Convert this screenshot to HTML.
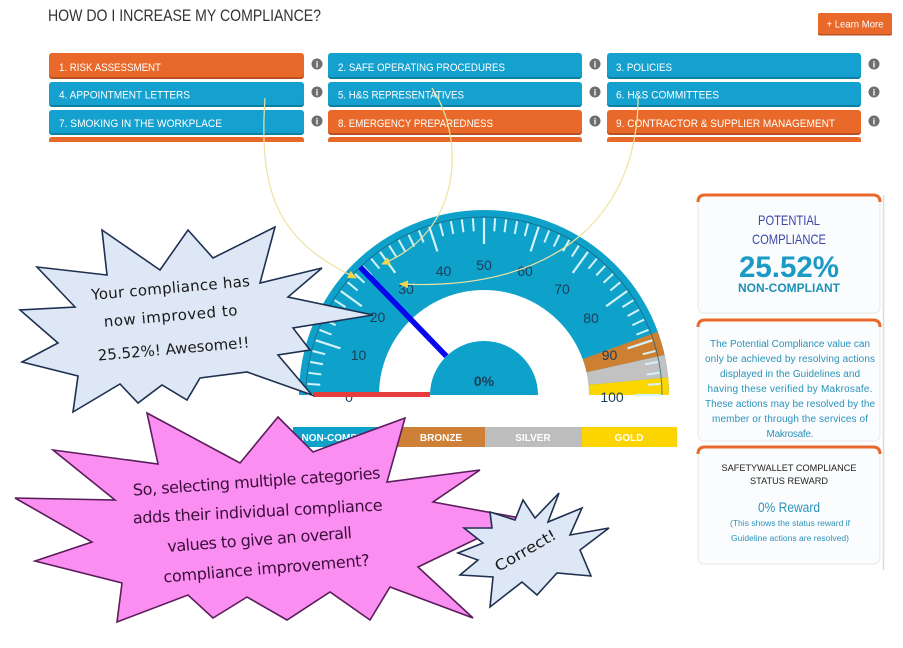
<!DOCTYPE html>
<html><head><meta charset="utf-8">
<style>
html,body{margin:0;padding:0;background:#fff;}
svg{display:block;font-family:"Liberation Sans",Arial,sans-serif;}
.bt{fill:#fff;font-size:11px;}
.hw{font-family:"Comic Sans MS","DejaVu Sans",sans-serif;}
</style></head>
<body>
<svg width="903" height="648" viewBox="0 0 903 648" xmlns="http://www.w3.org/2000/svg">
<defs>
<line id="tm" x1="307" y1="395" x2="320" y2="395" stroke="#d4f2fa" stroke-width="2"/>
<line id="tM" x1="307" y1="395" x2="333" y2="395" stroke="#d4f2fa" stroke-width="2.2"/>
<marker id="ah" markerWidth="12" markerHeight="12" refX="8" refY="4" orient="auto" markerUnits="userSpaceOnUse"><path d="M0,0 L9,4 L0,8 Z" fill="#f2d54a"/></marker>
</defs>

<!-- Title -->
<text x="48" y="21" font-size="17" fill="#333" textLength="273" lengthAdjust="spacingAndGlyphs">HOW DO I INCREASE MY COMPLIANCE?</text>

<!-- Learn more -->
<rect x="818" y="14.5" width="74" height="21" rx="2" fill="#b9501f"/>
<rect x="818" y="13" width="74" height="21" rx="2" fill="#e8692a"/>
<text x="855" y="27.5" font-size="10" fill="#fff" text-anchor="middle" textLength="57" lengthAdjust="spacingAndGlyphs">+ Learn More</text>

<!-- Buttons row 1 -->
<rect x="49" y="55" width="255" height="24" rx="3" fill="#b9501f"/>
<rect x="49" y="53" width="255" height="24" rx="3" fill="#e8692a"/>
<text class="bt" x="59" y="71" textLength="102" lengthAdjust="spacingAndGlyphs">1. RISK ASSESSMENT</text>
<rect x="328" y="55" width="254" height="24" rx="3" fill="#0c7fa5"/>
<rect x="328" y="53" width="254" height="24" rx="3" fill="#14a1cf"/>
<text class="bt" x="338" y="71" textLength="167" lengthAdjust="spacingAndGlyphs">2. SAFE OPERATING PROCEDURES</text>
<rect x="607" y="55" width="254" height="24" rx="3" fill="#0c7fa5"/>
<rect x="607" y="53" width="254" height="24" rx="3" fill="#14a1cf"/>
<text class="bt" x="616" y="71" textLength="56" lengthAdjust="spacingAndGlyphs">3. POLICIES</text>

<!-- row 2 -->
<rect x="49" y="84" width="255" height="23" rx="3" fill="#0c7fa5"/>
<rect x="49" y="82" width="255" height="23" rx="3" fill="#14a1cf"/>
<text class="bt" x="59" y="98.5" textLength="131" lengthAdjust="spacingAndGlyphs">4. APPOINTMENT LETTERS</text>
<rect x="328" y="84" width="254" height="23" rx="3" fill="#0c7fa5"/>
<rect x="328" y="82" width="254" height="23" rx="3" fill="#14a1cf"/>
<text class="bt" x="338" y="98.5" textLength="126" lengthAdjust="spacingAndGlyphs">5. H&amp;S REPRESENTATIVES</text>
<rect x="607" y="84" width="254" height="23" rx="3" fill="#0c7fa5"/>
<rect x="607" y="82" width="254" height="23" rx="3" fill="#14a1cf"/>
<text class="bt" x="616" y="98.5" textLength="103" lengthAdjust="spacingAndGlyphs">6. H&amp;S COMMITTEES</text>

<!-- row 3 -->
<rect x="49" y="112" width="255" height="23" rx="3" fill="#0c7fa5"/>
<rect x="49" y="110" width="255" height="23" rx="3" fill="#14a1cf"/>
<text class="bt" x="59" y="127" textLength="163" lengthAdjust="spacingAndGlyphs">7. SMOKING IN THE WORKPLACE</text>
<rect x="328" y="112" width="254" height="23" rx="3" fill="#b9501f"/>
<rect x="328" y="110" width="254" height="23" rx="3" fill="#e8692a"/>
<text class="bt" x="338" y="127" textLength="155" lengthAdjust="spacingAndGlyphs">8. EMERGENCY PREPAREDNESS</text>
<rect x="607" y="112" width="254" height="23" rx="3" fill="#b9501f"/>
<rect x="607" y="110" width="254" height="23" rx="3" fill="#e8692a"/>
<text class="bt" x="616" y="127" textLength="219" lengthAdjust="spacingAndGlyphs">9. CONTRACTOR &amp; SUPPLIER MANAGEMENT</text>

<!-- row 4 partial -->
<path d="M49,142 L49,140 Q49,137 52,137 L301,137 Q304,137 304,140 L304,142 Z" fill="#e8692a"/>
<path d="M328,142 L328,140 Q328,137 331,137 L579,137 Q582,137 582,140 L582,142 Z" fill="#e8692a"/>
<path d="M607,142 L607,140 Q607,137 610,137 L858,137 Q861,137 861,140 L861,142 Z" fill="#e8692a"/>

<!-- info icons -->
<g font-size="9" font-weight="bold" fill="#fff" text-anchor="middle">
<circle cx="317" cy="64" r="5.5" fill="#6e6e6e"/><text x="317" y="67.5">i</text>
<circle cx="595" cy="64" r="5.5" fill="#6e6e6e"/><text x="595" y="67.5">i</text>
<circle cx="874" cy="64" r="5.5" fill="#6e6e6e"/><text x="874" y="67.5">i</text>
<circle cx="317" cy="92" r="5.5" fill="#6e6e6e"/><text x="317" y="95.5">i</text>
<circle cx="595" cy="92" r="5.5" fill="#6e6e6e"/><text x="595" y="95.5">i</text>
<circle cx="874" cy="92" r="5.5" fill="#6e6e6e"/><text x="874" y="95.5">i</text>
<circle cx="317" cy="121" r="5.5" fill="#6e6e6e"/><text x="317" y="124.5">i</text>
<circle cx="595" cy="121" r="5.5" fill="#6e6e6e"/><text x="595" y="124.5">i</text>
<circle cx="874" cy="121" r="5.5" fill="#6e6e6e"/><text x="874" y="124.5">i</text>
</g>

<!-- Right panel -->
<line x1="883.5" y1="195" x2="883.5" y2="570" stroke="#dcdcdc" stroke-width="1.5"/>
<rect x="698" y="195" width="182" height="118" rx="6" fill="#fbfcfd" stroke="#e6e8ea"/>
<path d="M698,202 Q698,195 705,195 L873,195 Q880,195 880,202" fill="none" stroke="#e8692a" stroke-width="3"/>
<text x="789" y="225" font-size="14" fill="#3b46a6" text-anchor="middle" textLength="62" lengthAdjust="spacingAndGlyphs">POTENTIAL</text>
<text x="789" y="244" font-size="14" fill="#3b46a6" text-anchor="middle" textLength="74" lengthAdjust="spacingAndGlyphs">COMPLIANCE</text>
<text x="789" y="277" font-size="30" font-weight="bold" fill="#1b9ac4" text-anchor="middle" textLength="100" lengthAdjust="spacingAndGlyphs">25.52%</text>
<text x="789" y="292" font-size="12" font-weight="bold" fill="#1f8fb6" text-anchor="middle" textLength="102" lengthAdjust="spacingAndGlyphs">NON-COMPLIANT</text>

<rect x="698" y="320" width="182" height="121" rx="6" fill="#fbfcfd" stroke="#e6e8ea"/>
<path d="M698,327 Q698,320 705,320 L873,320 Q880,320 880,327" fill="none" stroke="#e8692a" stroke-width="3"/>
<g font-size="10" fill="#2a93ba" text-anchor="middle" lengthAdjust="spacingAndGlyphs">
<text x="790" y="347" textLength="160">The Potential Compliance value can</text>
<text x="790" y="362" textLength="170">only be achieved by resolving actions</text>
<text x="790" y="377" textLength="140">displayed in the Guidelines and</text>
<text x="790" y="392" textLength="165">having these verified by Makrosafe.</text>
<text x="790" y="407" textLength="170">These actions may be resolved by the</text>
<text x="790" y="422" textLength="156">member or through the services of</text>
<text x="790" y="437" textLength="47">Makrosafe.</text>
</g>

<rect x="698" y="447" width="182" height="117" rx="6" fill="#fbfcfd" stroke="#e6e8ea"/>
<path d="M698,454 Q698,447 705,447 L873,447 Q880,447 880,454" fill="none" stroke="#e8692a" stroke-width="3"/>
<text x="789" y="471" font-size="9.5" fill="#222" text-anchor="middle" textLength="135" lengthAdjust="spacingAndGlyphs">SAFETYWALLET COMPLIANCE</text>
<text x="789" y="484" font-size="9.5" fill="#222" text-anchor="middle" textLength="78" lengthAdjust="spacingAndGlyphs">STATUS REWARD</text>
<text x="789" y="512" font-size="14" fill="#2a93ba" text-anchor="middle" textLength="62" lengthAdjust="spacingAndGlyphs">0% Reward</text>
<text x="790" y="526" font-size="8" fill="#2a93ba" text-anchor="middle" textLength="120" lengthAdjust="spacingAndGlyphs">(This shows the status reward if</text>
<text x="790" y="541" font-size="8" fill="#2a93ba" text-anchor="middle" textLength="118" lengthAdjust="spacingAndGlyphs">Guideline actions are resolved)</text>

<!-- Gauge -->
<path d="M299,395 A185,185 0 0 1 669,395 Z" fill="#0ea2cb"/>
<path d="M657.8,331.7 A185,185 0 0 1 664.6,355.0 L586.5,372.3 A105,105 0 0 0 582.7,359.1 Z" fill="#cd7f32"/>
<path d="M664.6,355.0 A185,185 0 0 1 668.1,377.3 L588.5,384.9 A105,105 0 0 0 586.5,372.3 Z" fill="#c2c2c2"/>
<path d="M668.1,377.3 A185,185 0 0 1 669,395 L589,395 A105,105 0 0 0 588.5,384.9 Z" fill="#fcd600"/>
<path d="M379,395 A105,105 0 0 1 589,395 Z" fill="#fff"/>
<path d="M306,395 A178,178 0 0 1 662,395" fill="none" stroke="#1d5c78" stroke-width="1" opacity="0.7"/>
<g>
<use href="#tM" transform="rotate(0 484 395)"/>
<use href="#tm" transform="rotate(3.6 484 395)"/>
<use href="#tm" transform="rotate(7.2 484 395)"/>
<use href="#tm" transform="rotate(10.8 484 395)"/>
<use href="#tm" transform="rotate(14.4 484 395)"/>
<use href="#tM" transform="rotate(18 484 395)"/>
<use href="#tm" transform="rotate(21.6 484 395)"/>
<use href="#tm" transform="rotate(25.2 484 395)"/>
<use href="#tm" transform="rotate(28.8 484 395)"/>
<use href="#tm" transform="rotate(32.4 484 395)"/>
<use href="#tM" transform="rotate(36 484 395)"/>
<use href="#tm" transform="rotate(39.6 484 395)"/>
<use href="#tm" transform="rotate(43.2 484 395)"/>
<use href="#tm" transform="rotate(46.8 484 395)"/>
<use href="#tm" transform="rotate(50.4 484 395)"/>
<use href="#tM" transform="rotate(54 484 395)"/>
<use href="#tm" transform="rotate(57.6 484 395)"/>
<use href="#tm" transform="rotate(61.2 484 395)"/>
<use href="#tm" transform="rotate(64.8 484 395)"/>
<use href="#tm" transform="rotate(68.4 484 395)"/>
<use href="#tM" transform="rotate(72 484 395)"/>
<use href="#tm" transform="rotate(75.6 484 395)"/>
<use href="#tm" transform="rotate(79.2 484 395)"/>
<use href="#tm" transform="rotate(82.8 484 395)"/>
<use href="#tm" transform="rotate(86.4 484 395)"/>
<use href="#tM" transform="rotate(90 484 395)"/>
<use href="#tm" transform="rotate(93.6 484 395)"/>
<use href="#tm" transform="rotate(97.2 484 395)"/>
<use href="#tm" transform="rotate(100.8 484 395)"/>
<use href="#tm" transform="rotate(104.4 484 395)"/>
<use href="#tM" transform="rotate(108 484 395)"/>
<use href="#tm" transform="rotate(111.6 484 395)"/>
<use href="#tm" transform="rotate(115.2 484 395)"/>
<use href="#tm" transform="rotate(118.8 484 395)"/>
<use href="#tm" transform="rotate(122.4 484 395)"/>
<use href="#tM" transform="rotate(126 484 395)"/>
<use href="#tm" transform="rotate(129.6 484 395)"/>
<use href="#tm" transform="rotate(133.2 484 395)"/>
<use href="#tm" transform="rotate(136.8 484 395)"/>
<use href="#tm" transform="rotate(140.4 484 395)"/>
<use href="#tM" transform="rotate(144 484 395)"/>
<use href="#tm" transform="rotate(147.6 484 395)"/>
<use href="#tm" transform="rotate(151.2 484 395)"/>
<use href="#tm" transform="rotate(154.8 484 395)"/>
<use href="#tm" transform="rotate(158.4 484 395)"/>
<use href="#tM" transform="rotate(162 484 395)"/>
<use href="#tm" transform="rotate(165.6 484 395)"/>
<use href="#tm" transform="rotate(169.2 484 395)"/>
<use href="#tm" transform="rotate(172.8 484 395)"/>
<use href="#tm" transform="rotate(176.4 484 395)"/>
<use href="#tM" transform="rotate(180 484 395)"/>
</g>
<g font-size="14" fill="#1c3d57" text-anchor="middle" dominant-baseline="central">
<text x="349" y="397">0</text>
<text x="358.5" y="355">10</text>
<text x="377.5" y="317">20</text>
<text x="406" y="289">30</text>
<text x="443.5" y="271">40</text>
<text x="484" y="265">50</text>
<text x="525" y="271">60</text>
<text x="562" y="289">70</text>
<text x="591" y="318">80</text>
<text x="609.5" y="355">90</text>
<text x="612" y="397">100</text>
</g>
<rect x="313" y="392" width="117" height="5" fill="#e63c3c"/>
<line x1="446.4" y1="356.2" x2="360.2" y2="267.1" stroke="#0707ee" stroke-width="5.5"/>
<path d="M430,395 A54,54 0 0 1 538,395 Z" fill="#0ea2cb"/>
<text x="484" y="386" font-size="14" font-weight="bold" fill="#1c3d57" text-anchor="middle">0%</text>

<!-- Legend -->
<rect x="293" y="427" width="105" height="20" fill="#0ea2cb"/>
<rect x="398" y="427" width="87" height="20" fill="#cd8036"/>
<rect x="485" y="427" width="97" height="20" fill="#bdbdbd"/>
<rect x="582" y="427" width="95" height="20" fill="#fcd400"/>
<g font-size="10" font-weight="bold" fill="#fff" text-anchor="middle">
<text x="344" y="441">NON-COMPLIANT</text>
<text x="441" y="441">BRONZE</text>
<text x="533" y="441">SILVER</text>
<text x="629" y="441">GOLD</text>
</g>

<!-- Starburst 1 -->
<polygon points="102,230 160,270 188,230 213,258 275,227 260,283 322,268 288,297 373,315 293,328 310,350 278,355 312,395 247,372 200,378 187,400 162,385 138,403 120,384 73,412 78,376 22,362 58,343 20,310 75,307 37,267 107,275" fill="#dde7f5" stroke="#1f3050" stroke-width="1.6" stroke-linejoin="miter"/>
<g class="hw" font-size="15" fill="#1a1a1a" text-anchor="middle" lengthAdjust="spacingAndGlyphs">
<text x="171" y="293" transform="rotate(-5 171 293)" textLength="159">Your compliance has</text>
<text x="171" y="321" transform="rotate(-5 171 321)" textLength="134">now improved to</text>
<text x="174" y="354" transform="rotate(-5 174 354)" textLength="152">25.52%! Awesome!!</text>
</g>

<!-- Pink starburst -->
<polygon points="147,413 240,463 278,417 313,452 405,418 387,482 480,470 433,502 520,518 418,567 473,618 390,587 370,620 330,592 287,620 247,597 213,618 188,595 117,622 122,583 35,561 92,542 15,498 115,500 53,450 158,464" fill="#fa8ef1" stroke="#5b1d5b" stroke-width="1.6"/>
<g class="hw" font-size="16" fill="#3a0d3a" text-anchor="middle" lengthAdjust="spacingAndGlyphs">
<text x="257" y="487" transform="rotate(-4 257 487)" textLength="248">So, selecting multiple categories</text>
<text x="258" y="517" transform="rotate(-3 258 517)" textLength="250">adds their individual compliance</text>
<text x="260" y="545" transform="rotate(-4.3 260 545)" textLength="185">values to give an overall</text>
<text x="267" y="574" transform="rotate(-4.7 267 574)" textLength="207">compliance improvement?</text>
</g>

<!-- Correct starburst -->
<polygon points="559,493 548,522 582,508 570,535 609,528 580,550 591,576 557,573 537,595 522,582 490,607 493,577 460,575 478,560 458,553 483,543 464,528 492,528 490,512 515,520 523,500 535,518" fill="#dde7f5" stroke="#1f3050" stroke-width="1.6"/>
<text class="hw" x="528" y="555" font-size="15" fill="#1a1a1a" text-anchor="middle" transform="rotate(-30 528 555)" textLength="68" lengthAdjust="spacingAndGlyphs">Correct!</text>

<!-- Arrows -->
<g fill="none" stroke="#eee2a0" stroke-width="1.2" marker-end="url(#ah)">
<path d="M265,98 C258,200 282,242 356,278"/>
<path d="M432,88 C466,140 462,232 382,264"/>
<path d="M638,98 C638,210 562,292 400,284"/>
</g>
</svg>
</body></html>
